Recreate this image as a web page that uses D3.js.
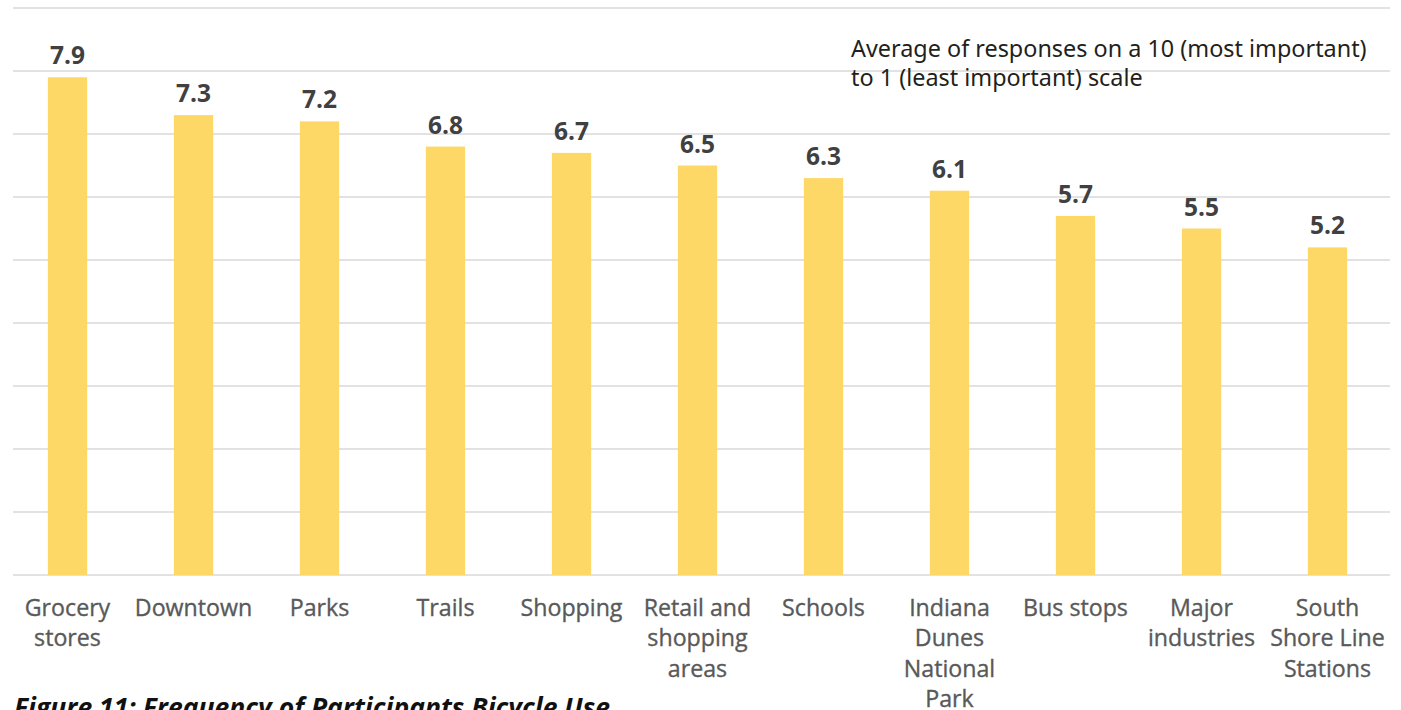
<!DOCTYPE html>
<html>
<head>
<meta charset="utf-8">
<script src="https://cdn.jsdelivr.net/npm/d3@7"></script>
<style>
  html, body { margin: 0; padding: 0; background: #ffffff; }
  svg { display: block; }
</style>
</head>
<body>
<svg id="chart" width="1401" height="710"></svg>
<script>
// Destinations rated by survey respondents
const categories = [
  "Grocery stores", "Downtown", "Parks", "Trails", "Shopping",
  "Retail and shopping areas", "Schools", "Indiana Dunes National Park",
  "Bus stops", "Major industries", "South Shore Line Stations"
];
// Wrapped label lines for each category
const categoryLines = [
  ["Grocery", "stores"], ["Downtown"], ["Parks"], ["Trails"], ["Shopping"],
  ["Retail and", "shopping", "areas"], ["Schools"], ["Indiana", "Dunes", "National", "Park"],
  ["Bus stops"], ["Major", "industries"], ["South", "Shore Line", "Stations"]
];
// Average importance score (10 = most important, 1 = least)
const averageScores = [7.9, 7.3, 7.2, 6.8, 6.7, 6.5, 6.3, 6.1, 5.7, 5.5, 5.2];
// Gridline values
const gridValues = [0, 1, 2, 3, 4, 5, 6, 7, 8, 9];

const noteLines = [
  "Average of responses on a 10 (most important)",
  "to 1 (least important) scale"
];
const captionText = "Figure 11: Frequency of Participants Bicycle Use";

const svg = d3.select("#chart");

const x = d3.scaleBand()
  .domain(categories)
  .range([4.5, 1390.5])
  .paddingInner(0.688)
  .paddingOuter(0.344);

const y = d3.scaleLinear()
  .domain([0, 9])
  .range([575, 8]);

// Horizontal gridlines
svg.append("g")
  .selectAll("line")
  .data(gridValues)
  .join("line")
  .attr("x1", 13)
  .attr("x2", 1390)
  .attr("y1", d => y(d))
  .attr("y2", d => y(d))
  .attr("stroke", "#d9d9d9")
  .attr("stroke-width", 1.3);

// Bars
svg.append("g")
  .selectAll("rect")
  .data(averageScores)
  .join("rect")
  .attr("x", (d, i) => x(categories[i]))
  .attr("width", x.bandwidth())
  .attr("y", d => y(d))
  .attr("height", d => y(0) - y(d))
  .attr("fill", "#fdd866");

// Value labels
svg.append("g")
  .selectAll("text")
  .data(averageScores)
  .join("text")
  .attr("x", (d, i) => x(categories[i]) + x.bandwidth() / 2)
  .attr("y", d => y(d) - 13)
  .attr("text-anchor", "middle")
  .attr("font-family", "'Open Sans', sans-serif")
  .attr("font-weight", 700)
  .attr("font-size", 24.5)
  .attr("fill", "#404040")
  .text(d => d.toFixed(1));

// Category labels
const catG = svg.append("g")
  .selectAll("text")
  .data(categories)
  .join("text")
  .attr("text-anchor", "middle")
  .attr("font-family", "'Open Sans', sans-serif")
  .attr("font-weight", 500)
  .attr("font-size", 23.2)
  .attr("fill", "#595959")
  .attr("stroke", "#595959")
  .attr("stroke-width", 0.35);

catG.each(function(d, i) {
  const t = d3.select(this);
  categoryLines[i].forEach((line, j) => {
    t.append("tspan")
      .attr("x", x(d) + x.bandwidth() / 2)
      .attr("y", 616 + j * 30.3)
      .text(line);
  });
});

// Scale note
svg.append("g")
  .selectAll("text")
  .data(noteLines)
  .join("text")
  .attr("x", 851)
  .attr("y", (d, i) => 57 + i * 29)
  .attr("font-family", "'Noto Sans', sans-serif")
  .attr("font-size", 23.4)
  .attr("fill", "#231f20")
  .text(d => d);

// Figure caption
svg.append("text")
  .attr("x", 14)
  .attr("y", 717)
  .attr("font-family", "'Open Sans', sans-serif")
  .attr("font-weight", 700)
  .attr("font-style", "italic")
  .attr("font-size", 26.5)
  .attr("fill", "#111111")
  .text(captionText);
</script>
</body>
</html>
